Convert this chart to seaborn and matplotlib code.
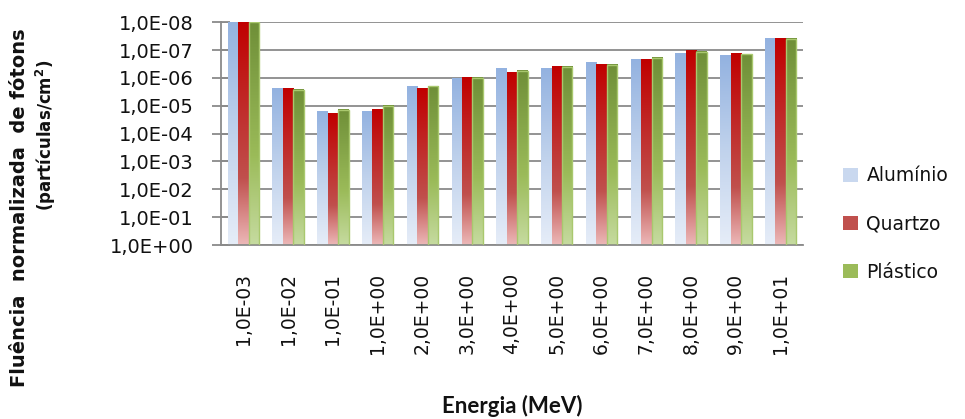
import numpy as np
import pandas as pd
import matplotlib
matplotlib.use("Agg")
import matplotlib.pyplot as plt
import seaborn as sns
from matplotlib.colors import LinearSegmentedColormap, to_rgb
from matplotlib.patches import Patch
from matplotlib.ticker import FixedLocator, NullLocator

# Energy bins (MeV) and normalised photon fluence per material
energias = ["1,0E-03", "1,0E-02", "1,0E-01", "1,0E+00", "2,0E+00", "3,0E+00",
            "4,0E+00", "5,0E+00", "6,0E+00", "7,0E+00", "8,0E+00", "9,0E+00",
            "1,0E+01"]
aluminio = [1.0e-8, 2.3e-6, 1.6e-5, 1.6e-5, 1.95e-6, 1.06e-6, 4.6e-7,
            4.6e-7, 2.7e-7, 2.26e-7, 1.3e-7, 1.58e-7, 3.9e-8]
quartzo = [1.0e-8, 2.3e-6, 1.9e-5, 1.38e-5, 2.3e-6, 9.5e-7, 6.6e-7,
           3.8e-7, 3.2e-7, 2.26e-7, 1.07e-7, 1.3e-7, 3.9e-8]
plastico = [1.0e-8, 2.7e-6, 1.38e-5, 1.01e-5, 1.95e-6, 1.0e-6, 5.6e-7,
            3.9e-7, 3.3e-7, 1.9e-7, 1.14e-7, 1.38e-7, 3.9e-8]
materiais = ["Alumínio", "Quartzo", "Plástico"]
ytick_vals = [1e0, 1e-1, 1e-2, 1e-3, 1e-4, 1e-5, 1e-6, 1e-7, 1e-8]
ytick_labels = ["1,0E+00", "1,0E-01", "1,0E-02", "1,0E-03", "1,0E-04",
                "1,0E-05", "1,0E-06", "1,0E-07", "1,0E-08"]

df = pd.DataFrame({
    "energia": energias * 3,
    "fluencia": aluminio + quartzo + plastico,
    "material": np.repeat(materiais, len(energias)),
})

# bottom -> middle -> top colour stops of each bar's gradient
gradientes = {
    "Alumínio": ["#e6edf8", "#c0d2ec", "#93b2e0"],
    "Quartzo": ["#ecb8b8", "#c0504d", "#c00000"],
    "Plástico": ["#c6dba0", "#9bbb59", "#6f8f38"],
}
paradas = {
    "Alumínio": [0.0, 0.5, 1.0],
    "Quartzo": [0.0, 0.3, 1.0],
    "Plástico": [0.0, 0.4, 1.0],
}
cores_legenda = {"Alumínio": "#c9d8ef", "Quartzo": "#c0504d", "Plástico": "#9bbb59"}
borda = {"Alumínio": "none", "Quartzo": "none", "Plástico": "#a9c86e"}

sns.set_theme(style="white")
plt.rcParams["font.family"] = ["DejaVu Sans"]

fig = plt.figure(figsize=(9.65, 4.19), dpi=100)
ax = fig.add_axes([221 / 965, 1 - 245 / 419, (803 - 221) / 965, (245 - 22.3) / 419])

sns.barplot(data=df, x="energia", y="fluencia", hue="material",
            hue_order=materiais, order=energias, palette=cores_legenda,
            width=0.7, errorbar=None, legend=False, ax=ax)

# bars rise from the 1,0E+00 baseline towards the value on a reversed log axis
for cont in ax.containers:
    for bar in cont:
        v = bar.get_height()
        bar.set_y(1.0)
        bar.set_height(v - 1.0)

ax.set_yscale("log")
ax.set_ylim(1.0, 1e-8)
ax.set_xlim(-0.5, len(energias) - 0.5)

to_axes = ax.transData + ax.transAxes.inverted()
for mat, cont in zip(materiais, ax.containers):
    cmap = LinearSegmentedColormap.from_list(
        mat, list(zip(paradas[mat], [to_rgb(c) for c in gradientes[mat]])))
    grad = np.linspace(0, 1, 256).reshape(-1, 1)
    for bar in cont:
        x0, y0 = bar.get_x(), bar.get_y()
        x1, y1 = x0 + bar.get_width(), y0 + bar.get_height()
        (ax0, ay0), (ax1, ay1) = to_axes.transform([(x0, y0), (x1, y1)])
        ax.imshow(grad, cmap=cmap, origin="lower", aspect="auto",
                  extent=(ax0, ax1, min(ay0, ay1), max(ay0, ay1)),
                  transform=ax.transAxes, zorder=2, interpolation="bilinear")
        bar.set_facecolor("none")
        bar.set_edgecolor(borda[mat])
        bar.set_linewidth(1.0 if borda[mat] != "none" else 0)
        bar.set_zorder(3)

ax.set_xlim(-0.5, len(energias) - 0.5)
ax.set_ylim(1.0, 1e-8)

grid_c = "#8a8a8a"
ax.yaxis.set_major_locator(FixedLocator(ytick_vals))
ax.yaxis.set_minor_locator(NullLocator())
ax.set_yticklabels(ytick_labels)
ax.yaxis.grid(True, color=grid_c, linewidth=1.3)
ax.xaxis.grid(False)
ax.set_axisbelow(True)

for s in ["top", "right"]:
    ax.spines[s].set_visible(False)
for s in ["left", "bottom"]:
    ax.spines[s].set_color(grid_c)
    ax.spines[s].set_linewidth(1.3)

ax.tick_params(axis="y", which="major", direction="inout", length=13,
               width=1.3, color=grid_c, pad=13, labelsize=14,
               labelcolor="#111111", left=True)
ax.tick_params(axis="x", length=0, pad=20, labelsize=13.5, labelcolor="#111111",
               bottom=False)
for lbl in ax.get_xticklabels():
    lbl.set_rotation(90)
    lbl.set_va("top")
    lbl.set_ha("center")

ax.set_xlabel("")
ax.set_ylabel("")

fig.text(512 / 965, 1 - 406 / 419, "Energia (MeV)", ha="center", va="center",
         fontsize=16, fontweight="bold", family="Lato", color="#111111")
fig.text(20 / 965, 1 - 208 / 419, "Fluência  normalizada  de fótons",
         rotation=90, ha="center", va="center", fontsize=14,
         fontweight="bold", color="#111111")
fig.text(46 / 965, 1 - 135 / 419, "(partículas/cm$^\\mathbf{2}$)",
         rotation=90, ha="center", va="center", fontsize=12,
         fontweight="bold", color="#111111")

handles = [Patch(facecolor=cores_legenda[m], edgecolor="none", label=m)
           for m in materiais]
fig.legend(handles=handles, loc="center left",
           bbox_to_anchor=(843 / 965, 1 - 224 / 419), frameon=False,
           fontsize=13.5, handlelength=0.8, handleheight=0.8,
           handletextpad=0.45, labelspacing=1.55, borderpad=0,
           borderaxespad=0, labelcolor="#111111")

fig.savefig("out.png", dpi=100)
